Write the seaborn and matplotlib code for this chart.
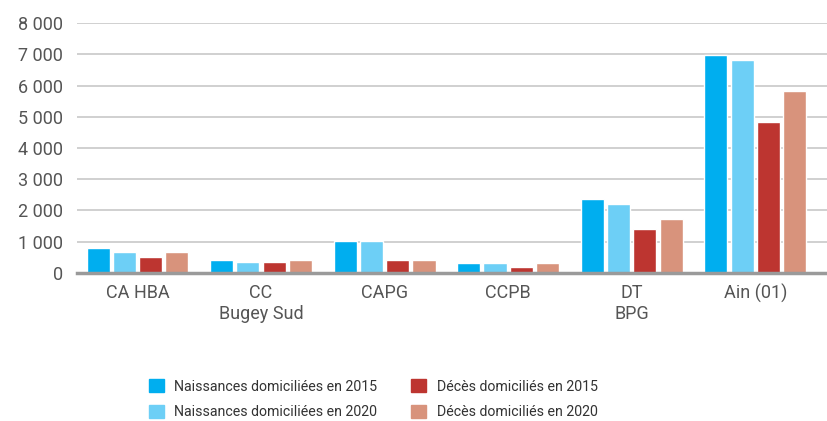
import pandas as pd
import seaborn as sns
import matplotlib.pyplot as plt
from matplotlib.ticker import FuncFormatter

# Territoires et valeurs
territoires = ['CA HBA', 'CC\nBugey Sud', 'CAPG', 'CCPB', 'DT\nBPG', 'Ain (01)']
naissances_2015 = [810, 420, 1010, 330, 2380, 6970]
naissances_2020 = [680, 355, 1010, 330, 2190, 6810]
deces_2015 = [520, 355, 420, 200, 1390, 4820]
deces_2020 = [680, 420, 420, 300, 1740, 5840]

series = ['Naissances domiciliées en 2015', 'Naissances domiciliées en 2020',
          'Décès domiciliés en 2015', 'Décès domiciliés en 2020']
couleurs = ['#00AEEF', '#6DCFF6', '#BD3530', '#D8937C']

df = pd.DataFrame({
    'territoire': territoires * 4,
    'serie': [s for s in series for _ in territoires],
    'valeur': naissances_2015 + naissances_2020 + deces_2015 + deces_2020,
})

sns.set_style('white')
plt.rcParams['font.family'] = ['Roboto', 'DejaVu Sans']

fig = plt.figure(figsize=(8.27, 4.21), dpi=100)
ax = fig.add_axes([0.093, 0.352, 0.907, 0.593])

sns.barplot(data=df, x='territoire', y='valeur', hue='serie', hue_order=series,
            palette=couleurs, width=0.85, gap=0.12, ax=ax, legend=False,
            errorbar=None, saturation=1)

ax.set_ylim(0, 8000)
ax.set_xlim(-0.49, 5.58)
ax.set_yticks(range(0, 8001, 1000))
ax.yaxis.set_major_formatter(FuncFormatter(lambda v, p: f'{int(v):,}'.replace(',', ' ')))
ax.grid(axis='y', color='#c8c8c8', linewidth=1.2)
ax.set_axisbelow(True)
for s in ['left', 'right', 'top']:
    ax.spines[s].set_visible(False)
ax.spines['bottom'].set_color('#9a9a9a')
ax.spines['bottom'].set_linewidth(2.5)
ax.tick_params(axis='both', length=0, labelsize=13, colors='#555555')
ax.tick_params(axis='y', pad=10)
ax.tick_params(axis='x', pad=8)
ax.set_xlabel('')
ax.set_ylabel('')

handles = [plt.Rectangle((0, 0), 1, 1, color=c) for c in couleurs]
leg = fig.legend(handles, series, ncol=2, loc='upper left',
                 bbox_to_anchor=(0.180, 0.099), frameon=False, fontsize=10.2,
                 borderaxespad=0, borderpad=0,
                 handlelength=1.05, handleheight=1.05, handletextpad=0.75,
                 columnspacing=2.4, labelspacing=0.8)
for t in leg.get_texts():
    t.set_color('#333333')

fig.savefig('out.png', dpi=100)
